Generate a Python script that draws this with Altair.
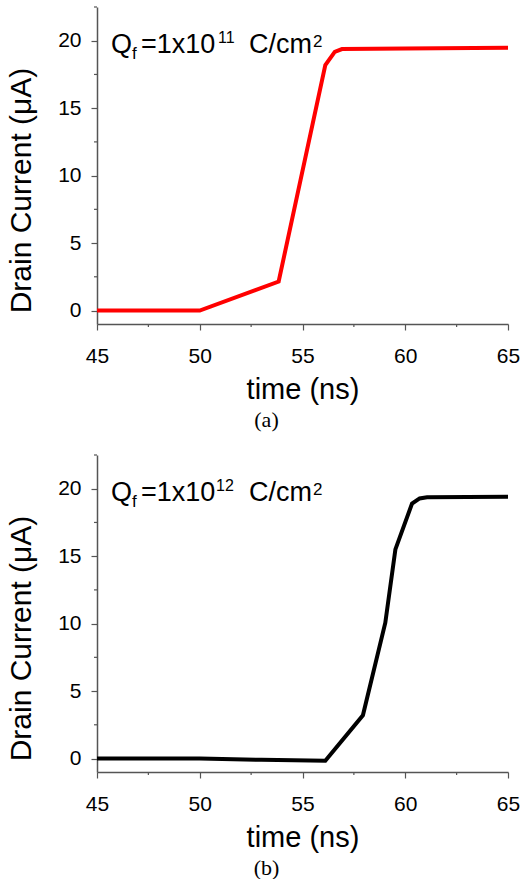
import altair as alt
import pandas as pd

# Panel (a): Qf = 1x10^11 C/cm^2
time_a = [45, 50, 53.84, 56.11, 56.57, 56.92, 60, 65]
current_a = [0, 0, 2.15, 18.2, 19.18, 19.38, 19.42, 19.48]

# Panel (b): Qf = 1x10^12 C/cm^2
time_b = [45, 50, 53, 56.11, 57.94, 59.03, 59.52, 60.33, 60.7, 61.06, 65]
current_b = [0, 0, -0.1, -0.17, 3.21, 10.07, 15.5, 18.9, 19.28, 19.36, 19.4]

x_major = [45, 50, 55, 60, 65]
x_minor = [47.5, 52.5, 57.5, 62.5]
y_major = [0, 5, 10, 15, 20]
y_minor = [2.5, 7.5, 12.5, 17.5, 22.5]

FONT = "Liberation Sans"
AXIS_COLOR = "#555555"
W, H = 411, 317
XS = alt.Scale(domain=[45, 65], nice=False, zero=False)
YS = alt.Scale(domain=[-1, 22.5], nice=False, zero=False)

X_AXIS = alt.Axis(
    values=x_major,
    format="d",
    tickSize=6,
    labelPadding=15,
    labelFlush=False,
    labelOverlap=False,
    title="time (ns)",
    titleFontSize=29,
    titlePadding=9,
)
Y_AXIS = alt.Axis(
    values=y_major,
    format="d",
    tickSize=6,
    labelPadding=10,
    labelFlush=False,
    title="Drain Current (μA)",
    titleFontSize=30,
    titlePadding=21,
    titleY=183,
)


def text_piece(txt, x, y, size):
    return alt.Chart(pd.DataFrame({"k": [0]})).mark_text(
        align="left", baseline="alphabetic", font=FONT, fontSize=size, color="black"
    ).encode(x=alt.value(x), y=alt.value(y), text=alt.value(txt))


def panel(t, i, color, sup, sup_x, caption):
    df = pd.DataFrame({"time": t, "current": i})
    line = alt.Chart(df).mark_line(color=color, strokeWidth=4).encode(
        x=alt.X("time:Q", scale=XS, axis=X_AXIS),
        y=alt.Y("current:Q", scale=YS, axis=Y_AXIS),
    )
    minor_x = alt.Chart(pd.DataFrame({"time": x_minor})).mark_rule(
        color=AXIS_COLOR, strokeWidth=1.2
    ).encode(
        x=alt.X("time:Q", scale=XS, axis=X_AXIS),
        y=alt.value(H),
        y2=alt.value(H + 3),
    )
    minor_y = alt.Chart(pd.DataFrame({"current": y_minor})).mark_rule(
        color=AXIS_COLOR, strokeWidth=1.2
    ).encode(
        y=alt.Y("current:Q", scale=YS, axis=Y_AXIS),
        x=alt.value(0),
        x2=alt.value(-3),
    )
    pieces = [
        text_piece("Q", 14, 46, 27),
        text_piece("f", 35, 52, 17),
        text_piece("=1x10", 44, 46, 27),
        text_piece(sup, sup_x, 36, 16),
        text_piece("C/cm", 152, 46, 27),
        text_piece("2", 216, 40, 17),
    ]
    return alt.layer(line, minor_x, minor_y, *pieces).properties(
        width=W,
        height=H,
        title=alt.TitleParams(
            caption,
            orient="bottom",
            anchor="middle",
            font="Liberation Serif",
            fontSize=22,
            fontWeight="normal",
            dx=-36,
            offset=6,
        ),
    )


chart = alt.vconcat(
    panel(time_a, current_a, "#ff0000", "11", 121, "(a)"),
    panel(time_b, current_b, "#000000", "12", 119, "(b)"),
    spacing=23,
).properties(
    padding={"left": 6, "top": 6, "right": 0, "bottom": 0},
    background="white",
).configure_view(stroke=None).configure_axis(
    grid=False,
    labelFont=FONT,
    labelFontSize=21,
    labelColor="black",
    titleFont=FONT,
    titleFontWeight="normal",
    titleColor="black",
    domainColor=AXIS_COLOR,
    domainWidth=1.5,
    tickColor=AXIS_COLOR,
    tickWidth=1.2,
)

chart.save("out.html", embed_options={"renderer": "svg", "actions": False})
